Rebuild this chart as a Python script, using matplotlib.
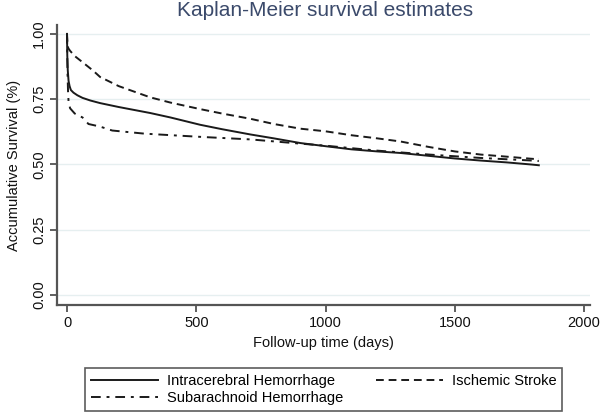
import matplotlib
matplotlib.use("Agg")
import matplotlib.pyplot as plt

plt.rcParams['font.family'] = ['Liberation Sans', 'DejaVu Sans']

# Data
ich_t = [0, 1, 3, 6, 10, 15, 25, 40, 60, 90, 128, 200, 322, 400, 515, 600, 709, 800, 903,
         1000, 1100, 1200, 1290, 1400, 1500, 1600, 1700, 1795, 1825]
ich_s = [1.0, 0.92, 0.86, 0.82, 0.80, 0.785, 0.775, 0.765, 0.755, 0.745, 0.735, 0.72, 0.697,
         0.68, 0.652, 0.635, 0.615, 0.60, 0.582, 0.570, 0.558, 0.550, 0.544, 0.533, 0.523,
         0.515, 0.508, 0.500, 0.497]

sah_t = [0, 2, 4, 6, 12, 30, 60, 83, 128, 175, 300, 440, 530, 709, 900, 1000, 1200, 1400,
         1600, 1800, 1825]
sah_s = [1.0, 0.85, 0.78, 0.74, 0.715, 0.695, 0.68, 0.655, 0.645, 0.63, 0.618, 0.61, 0.605,
         0.596, 0.58, 0.572, 0.553, 0.538, 0.525, 0.515, 0.513]

is_t = [0, 2, 5, 12, 30, 62, 100, 128, 200, 322, 400, 515, 600, 709, 800, 903, 1000, 1100,
        1200, 1290, 1400, 1500, 1600, 1700, 1795, 1825]
is_s = [1.0, 0.96, 0.945, 0.935, 0.915, 0.89, 0.86, 0.835, 0.80, 0.757, 0.737, 0.712, 0.695,
        0.675, 0.655, 0.637, 0.627, 0.612, 0.60, 0.588, 0.567, 0.55, 0.538, 0.53, 0.522, 0.52]

labels = ["Intracerebral Hemorrhage", "Subarachnoid Hemorrhage", "Ischemic Stroke"]
xticks = [0, 500, 1000, 1500, 2000]
yticks = [0.0, 0.25, 0.50, 0.75, 1.00]
ytick_labels = ["0.00", "0.25", "0.50", "0.75", "1.00"]

fig = plt.figure(figsize=(6.0, 4.13), dpi=100)
ax = fig.add_axes([57/600, 1-305/413, (590-57)/600, (305-25)/413])

lc = '#1a1a1a'
l1, = ax.plot(ich_t, ich_s, color=lc, lw=1.4, linestyle='-')
l2, = ax.plot(sah_t, sah_s, color=lc, lw=1.4, linestyle=(0, (5, 3, 1.5, 3)))
l3, = ax.plot(is_t, is_s, color=lc, lw=1.4, linestyle=(0, (4, 2.5)))

ax.set_xlim(-38.7, 2023)
ax.set_ylim(-0.038, 1.034)
ax.set_xticks(xticks)
ax.set_yticks(yticks)
ax.set_yticklabels(ytick_labels, rotation=90, va='center')
ax.tick_params(axis='both', labelsize=10.5, length=5, width=1.2, color='#444444',
               labelcolor='#111111', direction='out', pad=3)

for yv in yticks:
    ax.axhline(yv, color='#e6eff0', lw=1.0, zorder=0)

for s in ['top', 'right']:
    ax.spines[s].set_visible(False)
for s in ['left', 'bottom']:
    ax.spines[s].set_color('#555555')
    ax.spines[s].set_linewidth(1.6)

ax.set_xlabel("Follow-up time (days)", fontsize=10.5, labelpad=4, color='#111111')
ax.set_ylabel("Accumulative Survival (%)", fontsize=10.5, labelpad=8, color='#111111')
fig.text(325/600, 1-11/413, "Kaplan-Meier survival estimates", ha='center', va='center',
         fontsize=15, color='#3b4a6b')

leg = fig.legend([l1, l2, l3], labels, ncol=2, loc='lower left',
                 bbox_to_anchor=(85/600, 2/413, 477/600, 49/413), mode='expand',
                 borderaxespad=0, fontsize=10.5, handlelength=4.6, handletextpad=0.6,
                 frameon=True, fancybox=False, edgecolor='#333333', labelspacing=0.2,
                 borderpad=0.4)
leg.get_frame().set_linewidth(1.2)

fig.savefig("out.png", dpi=100)
